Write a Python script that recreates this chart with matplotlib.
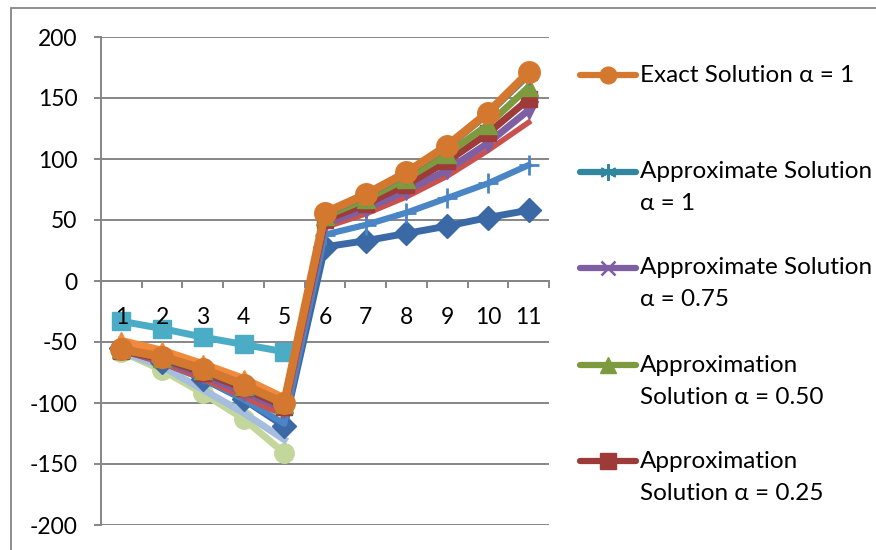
import numpy as np
import matplotlib.pyplot as plt
from matplotlib.lines import Line2D
from matplotlib.patches import Rectangle

plt.rcParams["font.family"] = ["Lato", "DejaVu Sans"]
plt.rcParams["axes.unicode_minus"] = False

nan = np.nan
steps = list(range(1, 12))

# series shown in the legend
exact_a1 = [-56, -62, -72, -85, -100, 56, 71, 89, 111, 138, 171]
approx_a1 = [-55, -61, -71, -84, -99, 55, 70, 88, 110, 137, 169]
approx_a075 = [-57, -65, -77, -91, -105, 47, 59, 74, 91, 113, 140]
approx_a050 = [-56, -63, -73, -86, -101, 53, 67, 84, 104, 128, 159]
approx_a025 = [-57, -64, -75, -88, -103, 50, 63, 79, 98, 121, 149]

# further series without a legend entry
diamond_vals = [-55, -66, -80, -97, -119, 28, 33, 39, 45, 52, 58]
plus_vals = [-56, -67, -80, -97, -117, 38, 46, 56, 68, 80, 95]
red_vals = [-57, -67, -80, -95, -110, 44, 55, 69, 86, 107, 130]
aqua_vals = [-33, -39, -46, -52, -58, nan, nan, nan, nan, nan, nan]
lime_vals = [-58, -73, -92, -113, -141, nan, nan, nan, nan, nan, nan]
steel_vals = [-58, -70, -89, -108, -130, nan, nan, nan, nan, nan, nan]
tri_vals = [-49, -57, -68, -80, -96, nan, nan, nan, nan, nan, nan]

legend_labels = [
    "Exact Solution α = 1",
    "Approximate Solution\nα = 1",
    "Approximate Solution\nα = 0.75",
    "Approximation\nSolution α = 0.50",
    "Approximation\nSolution α = 0.25",
]

ORANGE = "#D4782F"
TEAL = "#31879F"
PURPLE = "#7E5FA3"
GREEN = "#7D9B3E"
DARKRED = "#9E3B39"
GRID = "#868686"

W, H = 876, 550
fig = plt.figure(figsize=(W / 100, H / 100), dpi=100)
ax = fig.add_axes([101 / W, 1 - 525 / H, 448 / W, 488 / H])

ax.plot(steps, lime_vals, color="#C3D69B", lw=5, marker="o", ms=14, zorder=2)
ax.plot(steps, steel_vals, color="#A5BEDD", lw=5, zorder=2)
ax.plot(steps, aqua_vals, color="#4BACC6", lw=5, marker="s", ms=13, zorder=2)
ax.plot(steps, diamond_vals, color="#3B69A6", lw=5, marker="D", ms=12, zorder=3)
ax.plot(steps, plus_vals, color="#4A85C5", lw=4.5, marker="+", ms=14, mew=2,
        markevery=list(range(5, 11)), zorder=3)
ax.plot(steps, red_vals, color="#C9524E", lw=4, zorder=3)
ax.plot(steps, approx_a075, color=PURPLE, lw=5, marker="v", ms=13, zorder=4)
ax.plot(steps, approx_a025, color=DARKRED, lw=5, marker="s", ms=12, zorder=4)
ax.plot(steps, approx_a050, color=GREEN, lw=5, marker="^", ms=13, zorder=4)
ax.plot(steps, approx_a1, color=TEAL, lw=5, marker=(6, 2, 0), ms=14, mew=1.2, zorder=5)
ax.plot(steps, tri_vals, color="#F08A3C", lw=5.5, marker="^", ms=13, zorder=5)
ax.plot(steps, exact_a1, color=ORANGE, lw=6, marker="o", ms=15.5, zorder=6)

ax.set_xlim(0.5, 11.5)
ax.set_ylim(-200, 200)
ax.set_yticks(np.arange(-200, 201, 50))
ax.set_xticks(steps)
ax.set_xticks(np.arange(0.5, 11.6, 1), minor=True)
ax.set_xticklabels([str(s) for s in steps])

ax.grid(axis="y", color=GRID, lw=1.4)
ax.set_axisbelow(True)
ax.xaxis.set_zorder(7)  # category numbers stay readable over the lines
for side in ("top", "right"):
    ax.spines[side].set_visible(False)
ax.spines["left"].set_color(GRID)
ax.spines["left"].set_linewidth(1.4)
ax.spines["bottom"].set_position(("data", 0))
ax.spines["bottom"].set_color(GRID)
ax.spines["bottom"].set_linewidth(1.4)

ax.tick_params(axis="y", length=5, width=1.4, color=GRID, pad=12, labelsize=16.5)
ax.tick_params(axis="x", which="major", length=0, pad=19, labelsize=16.5)
ax.tick_params(axis="x", which="minor", length=5, width=1.4, color=GRID)

# chart area border
fig.add_artist(Rectangle((11 / W, -0.1), 1.2, 1 - 8 / H + 0.1,
                         transform=fig.transFigure, fill=False,
                         ec=GRID, lw=1.3))

# legend drawn by hand so the handle sits on the first text line
handles = [
    (ORANGE, "o", 12, 1),
    (TEAL, (6, 2, 0), 12, 1.5),
    (PURPLE, "x", 10, 1.8),
    (GREEN, "^", 12, 1),
    (DARKRED, "s", 11, 1),
]
row_y = [75, 172, 268, 365, 461]
for (color, marker, ms, mew), label, y in zip(handles, legend_labels, row_y):
    yf = 1 - y / H
    fig.add_artist(Line2D([580 / W, 608 / W, 636 / W], [yf, yf, yf],
                          transform=fig.transFigure, color=color, lw=4.5,
                          solid_capstyle="round", marker=marker, ms=ms,
                          mew=mew, markevery=[1]))
    for k, line in enumerate(label.split("\n")):
        fig.text(640 / W, 1 - (y + 32 * k) / H, line, fontsize=17.5,
                 va="center", ha="left")

fig.savefig("out.png", dpi=100)
